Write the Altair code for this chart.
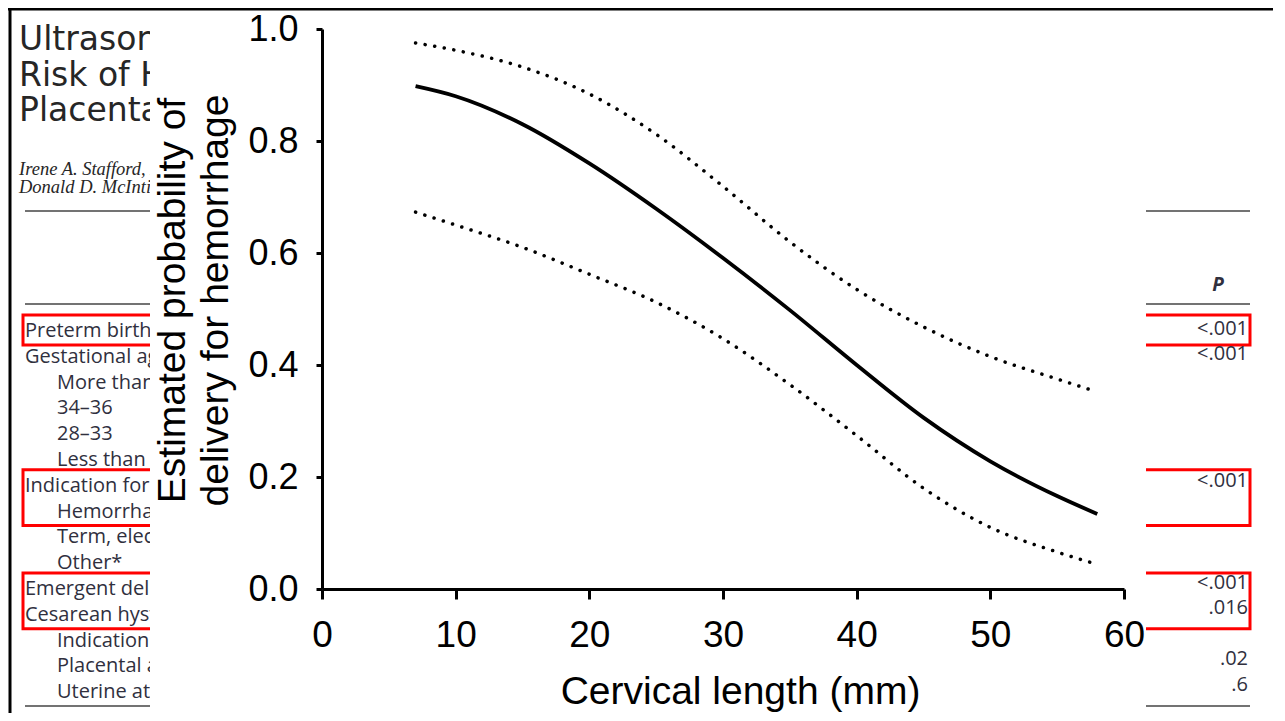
import altair as alt
import pandas as pd

# ---------------- chart data ----------------
cervical_length = [7, 10, 15, 20, 25, 30, 35, 40, 45, 50, 55, 58]
estimate = [0.898, 0.880, 0.830, 0.760, 0.679, 0.591, 0.498, 0.400, 0.306, 0.228, 0.166, 0.134]
upper_ci = [0.975, 0.962, 0.932, 0.884, 0.812, 0.719, 0.620, 0.535, 0.468, 0.415, 0.375, 0.352]
lower_ci = [0.673, 0.650, 0.610, 0.562, 0.512, 0.447, 0.365, 0.274, 0.180, 0.110, 0.066, 0.044]

x_ticks = [0, 10, 20, 30, 40, 50, 60]
y_ticks = [0.0, 0.2, 0.4, 0.6, 0.8, 1.0]
x_title = "Cervical length (mm)"
y_title = ["Estimated probability of", "delivery for hemorrhage"]

# ---------------- background page (article behind the figure) ----------------
article_title = ["Ultrasonographic Cervical Length and",
                 "Risk of Hemorrhage in Pregnancies With",
                 "Placenta Previa"]
article_authors = ["Irene A. Stafford, MD, Jodi S. Dashe, MD,",
                   "Donald D. McIntire, PhD, and"]
row_labels = ["Preterm birth", "Gestational age at delivery (wk)", "More than 36", "34–36",
              "28–33", "Less than 28", "Indication for delivery", "Hemorrhage",
              "Term, elective", "Other*", "Emergent delivery", "Cesarean hysterectomy",
              "Indication", "Placental accreta", "Uterine atony"]
row_indent = [0, 0, 1, 1, 1, 1, 0, 1, 1, 1, 0, 0, 1, 1, 1]
p_rows = [0, 1, 6, 10, 11, 13, 14]
p_values = ["<.001", "<.001", "<.001", "<.001", ".016", ".02", ".6"]
p_header = "P"
highlight_groups = [(0, 0), (6, 7), (10, 11)]

# ---------------- layout ----------------
PAGE_W, PAGE_H = 1285, 721
PLOT_X0, PLOT_Y0 = 322, 29          # screen position of the plot origin
PLOT_W, PLOT_H = 802, 560
SVG_W, SVG_H = 1265, 705
ROW0, ROW_H = 331, 25.8
COL_L, INDENT, COL_R = 25, 32, 1248
FIG_L, FIG_R, FIG_T = 150, 1146, 10

page_x = alt.Scale(domain=[0, PAGE_W], range=[-PLOT_X0, PAGE_W - PLOT_X0], nice=False, zero=False)
page_y = alt.Scale(domain=[0, PAGE_H], range=[-PLOT_Y0, PAGE_H - PLOT_Y0], nice=False, zero=False)


def PX(f):
    return alt.X(f, type="quantitative", scale=page_x, axis=None)


def PY(f):
    return alt.Y(f, type="quantitative", scale=page_y, axis=None)


def row_y(i):
    return ROW0 + ROW_H * i


table_text = "#30303e"

rules_df = pd.DataFrame({"y": [211, 304, 706], "x": [COL_L] * 3, "x2": [1250] * 3})
rules = alt.Chart(rules_df).mark_rule(color="#444444", strokeWidth=1.6).encode(
    x=PX("x"), x2="x2", y=PY("y"))

boxes_df = pd.DataFrame({
    "x": [COL_L - 2] * 3, "x2": [1250] * 3,
    "y": [row_y(a) - 16 for a, b in highlight_groups],
    "y2": [row_y(b) + 14 for a, b in highlight_groups]})
boxes = alt.Chart(boxes_df).mark_rect(filled=False, stroke="#ff0000", strokeWidth=3).encode(
    x=PX("x"), x2="x2", y=PY("y"), y2="y2")

title_df = pd.DataFrame({"t": article_title, "x": [19] * 3, "y": [50, 86, 121]})
title_txt = alt.Chart(title_df).mark_text(
    align="left", baseline="alphabetic", font="DejaVu Sans", fontSize=33,
    color="#262626").encode(x=PX("x"), y=PY("y"), text="t")

auth_df = pd.DataFrame({"t": article_authors, "x": [19] * 2, "y": [175, 193]})
auth_txt = alt.Chart(auth_df).mark_text(
    align="left", baseline="alphabetic", font="Liberation Serif", fontStyle="italic",
    fontSize=18.5, color="#262626").encode(x=PX("x"), y=PY("y"), text="t")

rows_df = pd.DataFrame({
    "t": row_labels,
    "x": [COL_L + INDENT * k for k in row_indent],
    "y": [row_y(i) for i in range(len(row_labels))]})
rows_txt = alt.Chart(rows_df).mark_text(
    align="left", baseline="middle", font="Open Sans", fontSize=20,
    color=table_text).encode(x=PX("x"), y=PY("y"), text="t")

p_df = pd.DataFrame({"t": p_values, "x": [COL_R] * len(p_values),
                     "y": [row_y(i) - 2 - 0.4 * i for i in p_rows]})
p_txt = alt.Chart(p_df).mark_text(
    align="right", baseline="middle", font="Open Sans", fontSize=20,
    color=table_text).encode(x=PX("x"), y=PY("y"), text="t")

ph_df = pd.DataFrame({"t": [p_header], "x": [1218], "y": [285]})
ph_txt = alt.Chart(ph_df).mark_text(
    align="center", baseline="middle", font="Open Sans", fontStyle="italic",
    fontWeight="bold", fontSize=19, color=table_text).encode(x=PX("x"), y=PY("y"), text="t")

fig_df = pd.DataFrame({"x": [FIG_L], "x2": [FIG_R], "y": [FIG_T], "y2": [PAGE_H]})
fig_bg = alt.Chart(fig_df).mark_rect(fill="white", stroke=None).encode(
    x=PX("x"), x2="x2", y=PY("y"), y2="y2")

frame_h_df = pd.DataFrame({"x": [0], "x2": [PAGE_W], "y": [9]})
frame_h = alt.Chart(frame_h_df).mark_rule(color="black", strokeWidth=3).encode(
    x=PX("x"), x2="x2", y=PY("y"))
frame_v_df = pd.DataFrame({"x": [10], "y": [0], "y2": [PAGE_H]})
frame_v = alt.Chart(frame_v_df).mark_rule(color="black", strokeWidth=3).encode(
    x=PX("x"), y=PY("y"), y2="y2")

page = alt.layer(rules, boxes, title_txt, auth_txt, rows_txt, p_txt, ph_txt,
                 fig_bg, frame_h, frame_v)

# ---------------- the figure ----------------
est_df = pd.DataFrame({"len": cervical_length, "p": estimate})
ci_df = pd.concat([
    pd.DataFrame({"len": cervical_length, "p": upper_ci, "bound": "upper"}),
    pd.DataFrame({"len": cervical_length, "p": lower_ci, "bound": "lower"}),
])

x_enc = alt.X("len:Q", scale=alt.Scale(domain=[0, 60], nice=False, zero=False),
              axis=alt.Axis(values=x_ticks, title=x_title, orient="bottom", grid=False,
                            domainColor="black", domainWidth=3, tickColor="black",
                            tickWidth=3, tickSize=10, labelFontSize=37,
                            labelFont="Liberation Sans", labelColor="black",
                            labelPadding=18, labelFlush=False, format="d",
                            titleFont="Liberation Sans", titleFontSize=39,
                            titleFontWeight="normal", titleColor="black",
                            titleX=418, titleY=114, titleBaseline="alphabetic",
                            titleAlign="center", zindex=1))
y_enc = alt.Y("p:Q", scale=alt.Scale(domain=[0, 1], nice=False, zero=False),
              axis=alt.Axis(values=y_ticks, title=y_title, orient="left", grid=False,
                            format=".1f", domainColor="black", domainWidth=3,
                            tickColor="black", tickWidth=3, tickSize=6,
                            labelFontSize=36, labelFont="Liberation Sans",
                            labelColor="black", labelPadding=18, labelFlush=False,
                            titleFont="Liberation Sans", titleFontSize=39,
                            titleFontWeight="normal", titleColor="black",
                            titleLineHeight=43, titleAngle=270, titleX=-150,
                            titleY=271, titleBaseline="middle", titleAlign="center",
                            zindex=1))

est_line = alt.Chart(est_df).mark_line(
    color="black", strokeWidth=3.8, interpolate="monotone").encode(x=x_enc, y=y_enc)
ci_lines = alt.Chart(ci_df).mark_line(
    color="black", strokeWidth=3.5, strokeDash=[0.1, 9.6], strokeCap="round",
    interpolate="monotone").encode(x="len:Q", y="p:Q", detail="bound:N")

figure = alt.layer(est_line, ci_lines)

chart = alt.layer(page, figure).resolve_scale(x="independent", y="independent").properties(
    width=PLOT_W, height=PLOT_H,
    autosize=alt.AutoSizeParams(type="none"),
    padding={"left": PLOT_X0 - 8, "top": PLOT_Y0 - 8,
             "right": SVG_W - (PLOT_X0 - 8) - PLOT_W,
             "bottom": SVG_H - (PLOT_Y0 - 8) - PLOT_H},
    background="white",
).configure_view(stroke=None)

chart.save("out.html", embed_options={"renderer": "svg", "actions": False})
